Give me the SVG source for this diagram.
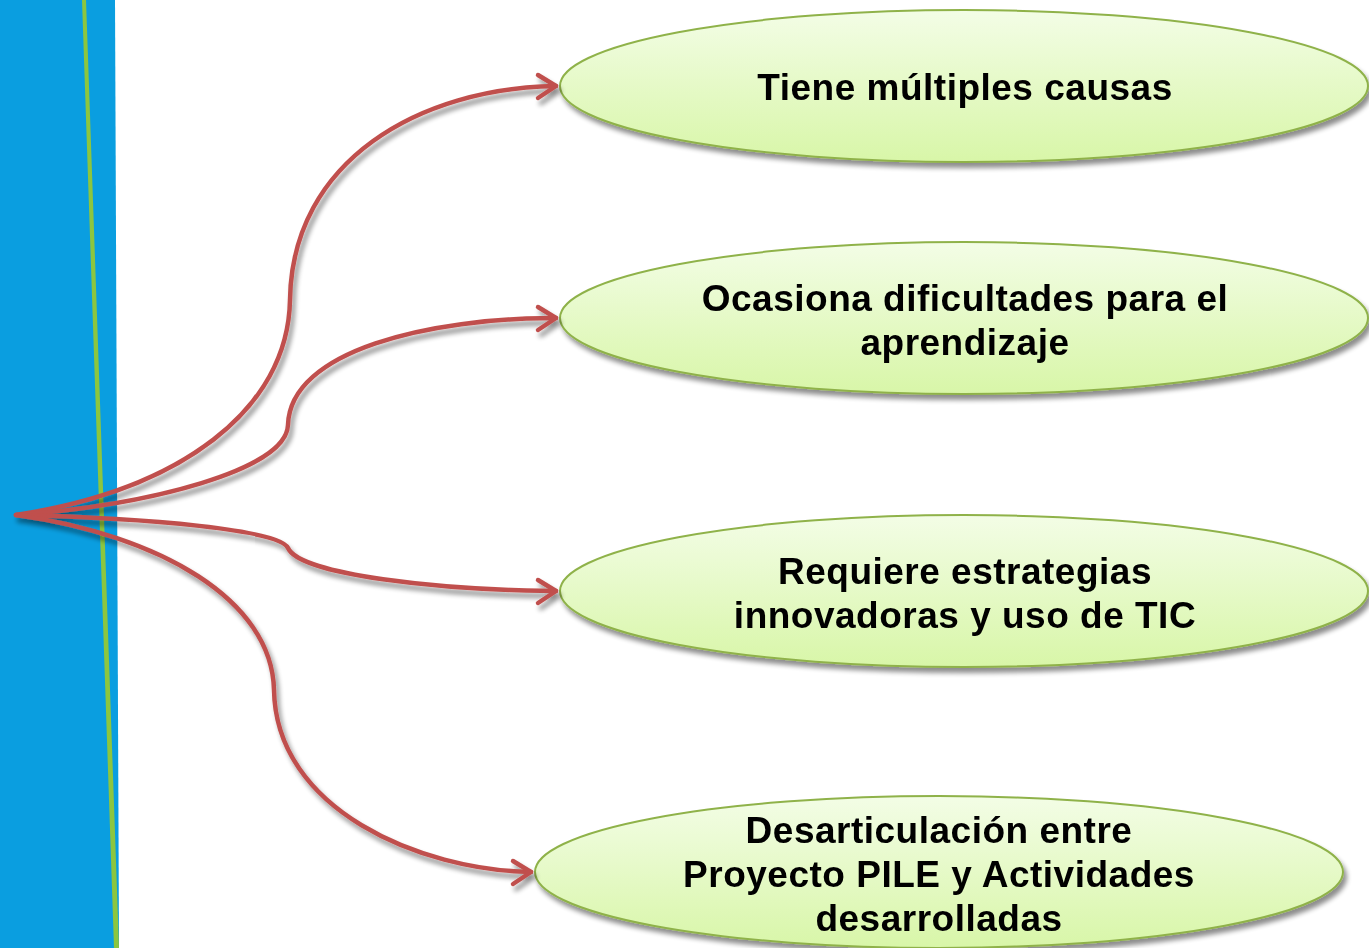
<svg xmlns="http://www.w3.org/2000/svg" width="1369" height="948" viewBox="0 0 1369 948">
<defs>
<linearGradient id="g" x1="0" y1="0" x2="0" y2="1">
<stop offset="0" stop-color="#f3fde6"/>
<stop offset="1" stop-color="#d8f6a8"/>
</linearGradient>
<filter id="sh" x="-10%" y="-20%" width="120%" height="150%">
<feGaussianBlur in="SourceAlpha" stdDeviation="2.5"/>
<feOffset dx="3" dy="5" result="b"/>
<feComponentTransfer><feFuncA type="linear" slope="0.45"/></feComponentTransfer>
<feMerge><feMergeNode/><feMergeNode in="SourceGraphic"/></feMerge>
</filter>
<style>
.node ellipse{fill:url(#g);stroke:#8fb24a;stroke-width:2}
.node text{font-family:"Liberation Sans",Arial,sans-serif;font-weight:bold;font-size:37px;letter-spacing:0.5px;fill:#000;text-anchor:middle}
.conn path{fill:none;stroke:#c0504d;stroke-width:4.5;stroke-linecap:round;stroke-linejoin:round}
</style>
</defs>
<rect width="1369" height="948" fill="#fff"/>
<polygon points="0,0 115,0 119,948 0,948" fill="#0a9ee0"/>
<polygon points="82,0 86,0 119,948 114,948" fill="#8cc63f"/>
<g id="node1" class="node" filter="url(#sh)">
<ellipse cx="964" cy="86" rx="404" ry="76"/>
<text x="965" y="100">Tiene múltiples causas</text>
</g>
<g id="node2" class="node" filter="url(#sh)">
<ellipse cx="964" cy="318" rx="404" ry="76"/>
<text x="965" y="311">Ocasiona dificultades para el</text>
<text x="965" y="355">aprendizaje</text>
</g>
<g id="node3" class="node" filter="url(#sh)">
<ellipse cx="964" cy="591" rx="404" ry="76"/>
<text x="965" y="584">Requiere estrategias</text>
<text x="965" y="628">innovadoras y uso de TIC</text>
</g>
<g id="node4" class="node" filter="url(#sh)">
<ellipse cx="939" cy="872" rx="404" ry="76"/>
<text x="939" y="843">Desarticulación entre</text>
<text x="939" y="887">Proyecto PILE y Actividades</text>
<text x="939" y="931">desarrolladas</text>
</g>
<g id="connectors" class="conn" filter="url(#sh)">
<path d="M16,515 C180,490 288,410 290,300 C292,160 420,88 556,86"/>
<path d="M538,75 L556,86 L538,98"/>
<path d="M16,515 C150,505 286,470 288,425 C290,350 430,318 556,318"/>
<path d="M538,307 L556,318 L538,330"/>
<path d="M16,515 C150,518 280,530 288,548 C300,575 440,590 556,591"/>
<path d="M538,580 L556,591 L538,603"/>
<path d="M16,515 C160,535 272,600 274,690 C276,810 420,870 531,872"/>
<path d="M513,861 L531,872 L513,884"/>
</g>
</svg>
